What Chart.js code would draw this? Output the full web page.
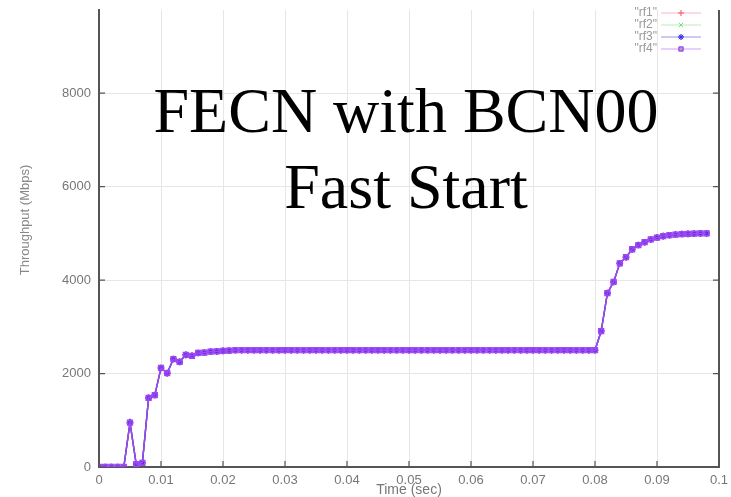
<!DOCTYPE html>
<html>
<head>
<meta charset="utf-8">
<script src="https://cdn.jsdelivr.net/npm/chart.js@4.4.0/dist/chart.umd.min.js"></script>
<style>
  body { margin: 0; background: #fff; }
</style>
</head>
<body>
<canvas id="myChart" width="731" height="497"></canvas>
<script>
// sample times (sec)
const timeArray = [
  0.000, 0.001, 0.002, 0.003, 0.004, 0.005, 0.006, 0.007, 0.008, 0.009,
  0.010, 0.011, 0.012, 0.013, 0.014, 0.015, 0.016, 0.017, 0.018, 0.019,
  0.020, 0.021, 0.022, 0.023, 0.024, 0.025, 0.026, 0.027, 0.028, 0.029,
  0.030, 0.031, 0.032, 0.033, 0.034, 0.035, 0.036, 0.037, 0.038, 0.039,
  0.040, 0.041, 0.042, 0.043, 0.044, 0.045, 0.046, 0.047, 0.048, 0.049,
  0.050, 0.051, 0.052, 0.053, 0.054, 0.055, 0.056, 0.057, 0.058, 0.059,
  0.060, 0.061, 0.062, 0.063, 0.064, 0.065, 0.066, 0.067, 0.068, 0.069,
  0.070, 0.071, 0.072, 0.073, 0.074, 0.075, 0.076, 0.077, 0.078, 0.079,
  0.080, 0.081, 0.082, 0.083, 0.084, 0.085, 0.086, 0.087, 0.088, 0.089,
  0.090, 0.091, 0.092, 0.093, 0.094, 0.095, 0.096, 0.097, 0.098
]
// throughput (Mbps), the four flows lie on top of each other
const rfThroughput = [
  0, 0, 0, 0, 0, 950, 60, 90, 1480, 1540,
  2120, 2010, 2310, 2250, 2400, 2380, 2440, 2450, 2470, 2475,
  2485, 2490, 2500, 2500, 2500, 2500, 2500, 2500, 2500, 2500,
  2500, 2500, 2500, 2500, 2500, 2500, 2500, 2500, 2500, 2500,
  2500, 2500, 2500, 2500, 2500, 2500, 2500, 2500, 2500, 2500,
  2500, 2500, 2500, 2500, 2500, 2500, 2500, 2500, 2500, 2500,
  2500, 2500, 2500, 2500, 2500, 2500, 2500, 2500, 2500, 2500,
  2500, 2500, 2500, 2500, 2500, 2500, 2500, 2500, 2500, 2500,
  2500, 2910, 3720, 3960, 4360, 4490, 4660, 4750, 4810, 4870,
  4910, 4940, 4960, 4975, 4985, 4990, 4995, 5000, 5000
]
const seriesNames = ['"rf1"', '"rf2"', '"rf3"', '"rf4"']
const yTicks = [0, 2000, 4000, 6000, 8000]
const titleLines = ['FECN with BCN00', 'Fast Start']
const yLabel = 'Throughput (Mbps)'

const seriesColors = ['#f07080', '#70e070', '#3a2ae0', '#a048f4']
const seriesMarks = ['cross', 'crossRot', 'star', 'rect']

function points() {
  return timeArray.map((t, i) => ({ x: t, y: rfThroughput[i] }))
}

// rf4 ends up on top, like the later curves in the original plot
const datasets = seriesNames.map((name, i) => ({
  label: name,
  data: points(),
  order: 3 - i,
  borderColor: seriesColors[i],
  backgroundColor: i == 3 ? 'rgba(160,72,244,0.25)' : seriesColors[i],
  pointBorderColor: seriesColors[i],
  pointStyle: seriesMarks[i],
  pointRadius: 3.3,
  pointBorderWidth: 1.6,
  borderWidth: 1.4,
  tension: 0
}))

const extras = {
  id: 'extras',
  afterDraw(chart) {
    const ctx = chart.ctx
    const a = chart.chartArea
    const xs = chart.scales.x
    const ys = chart.scales.y
    ctx.save()
    // right border
    ctx.strokeStyle = '#555'
    ctx.lineWidth = 2
    ctx.beginPath()
    ctx.moveTo(a.right, a.top)
    ctx.lineTo(a.right, a.bottom)
    ctx.stroke()
    // inward ticks
    ctx.lineWidth = 1.2
    ctx.beginPath()
    yTicks.forEach(v => {
      const py = ys.getPixelForValue(v)
      ctx.moveTo(a.left, py); ctx.lineTo(a.left + 6, py)
      ctx.moveTo(a.right, py); ctx.lineTo(a.right - 6, py)
    })
    xs.ticks.forEach(t => {
      const px = xs.getPixelForValue(t.value)
      ctx.moveTo(px, a.bottom); ctx.lineTo(px, a.bottom - 6)
    })
    ctx.stroke()
    // y axis label, sits a bit above the middle in the original
    ctx.save()
    ctx.translate(25, 220)
    ctx.rotate(-Math.PI / 2)
    ctx.font = '13px "Liberation Sans"'
    ctx.fillStyle = '#888'
    ctx.textAlign = 'center'
    ctx.textBaseline = 'middle'
    ctx.fillText(yLabel, 0, 0)
    ctx.restore()
    // legend
    ctx.font = '12px "Liberation Sans"'
    ctx.textAlign = 'right'
    ctx.textBaseline = 'middle'
    seriesNames.forEach((name, i) => {
      const ly = 13 + i * 12
      ctx.fillStyle = '#999'
      ctx.fillText(name, 657, ly)
      ctx.strokeStyle = seriesColors[i]
      ctx.lineWidth = 1
      ctx.globalAlpha = 0.5
      ctx.beginPath()
      ctx.moveTo(661, ly); ctx.lineTo(701, ly)
      ctx.stroke()
      ctx.globalAlpha = 0.8
      Chart.helpers.drawPoint(ctx, {
        pointStyle: seriesMarks[i], radius: 3, rotation: 0, borderWidth: 1
      }, 681, ly)
      ctx.fillStyle = seriesColors[i]
      if (i != 3) ctx.fill()
      ctx.stroke()
      ctx.globalAlpha = 1
    })
    // big title over the plot
    ctx.fillStyle = '#000'
    ctx.font = '64px "Liberation Serif"'
    ctx.textAlign = 'center'
    ctx.textBaseline = 'alphabetic'
    ctx.fillText(titleLines[0], 406, 132)
    ctx.fillText(titleLines[1], 406, 208)
    ctx.restore()
  }
}

const ctx = document.getElementById('myChart')
new Chart(ctx, {
  type: 'line',
  data: { datasets: datasets },
  plugins: [extras],
  options: {
    responsive: false,
    animation: false,
    layout: { padding: { top: 10, right: 12, left: 0, bottom: 0 } },
    plugins: { legend: { display: false }, tooltip: { enabled: false } },
    scales: {
      x: {
        type: 'linear',
        min: 0,
        max: 0.1,
        afterFit: s => { s.height = 30; s.paddingLeft = 0; s.paddingRight = 0 },
        grid: { color: '#e6e6e6', drawTicks: false },
        border: { color: '#555', width: 2 },
        ticks: {
          stepSize: 0.01,
          padding: 6,
          color: '#777',
          font: { family: 'Liberation Sans', size: 13 },
          maxRotation: 0,
          callback: v => String(Number(v.toFixed(2)))
        },
        title: {
          display: true,
          text: 'Time (sec)',
          color: '#777',
          font: { family: 'Liberation Sans', size: 14 },
          padding: { top: 0, bottom: -2 }
        }
      },
      y: {
        min: 0,
        max: 9780,
        afterFit: s => { s.width = 99; s.paddingTop = 0; s.paddingBottom = 0 },
        afterBuildTicks: s => { s.ticks = yTicks.map(v => ({ value: v })) },
        grid: { color: '#e6e6e6', drawTicks: false },
        border: { color: '#555', width: 2 },
        ticks: {
          padding: 8,
          color: '#777',
          font: { family: 'Liberation Sans', size: 13 },
          callback: v => String(v)
        }
      }
    }
  }
})
</script>
</body>
</html>
